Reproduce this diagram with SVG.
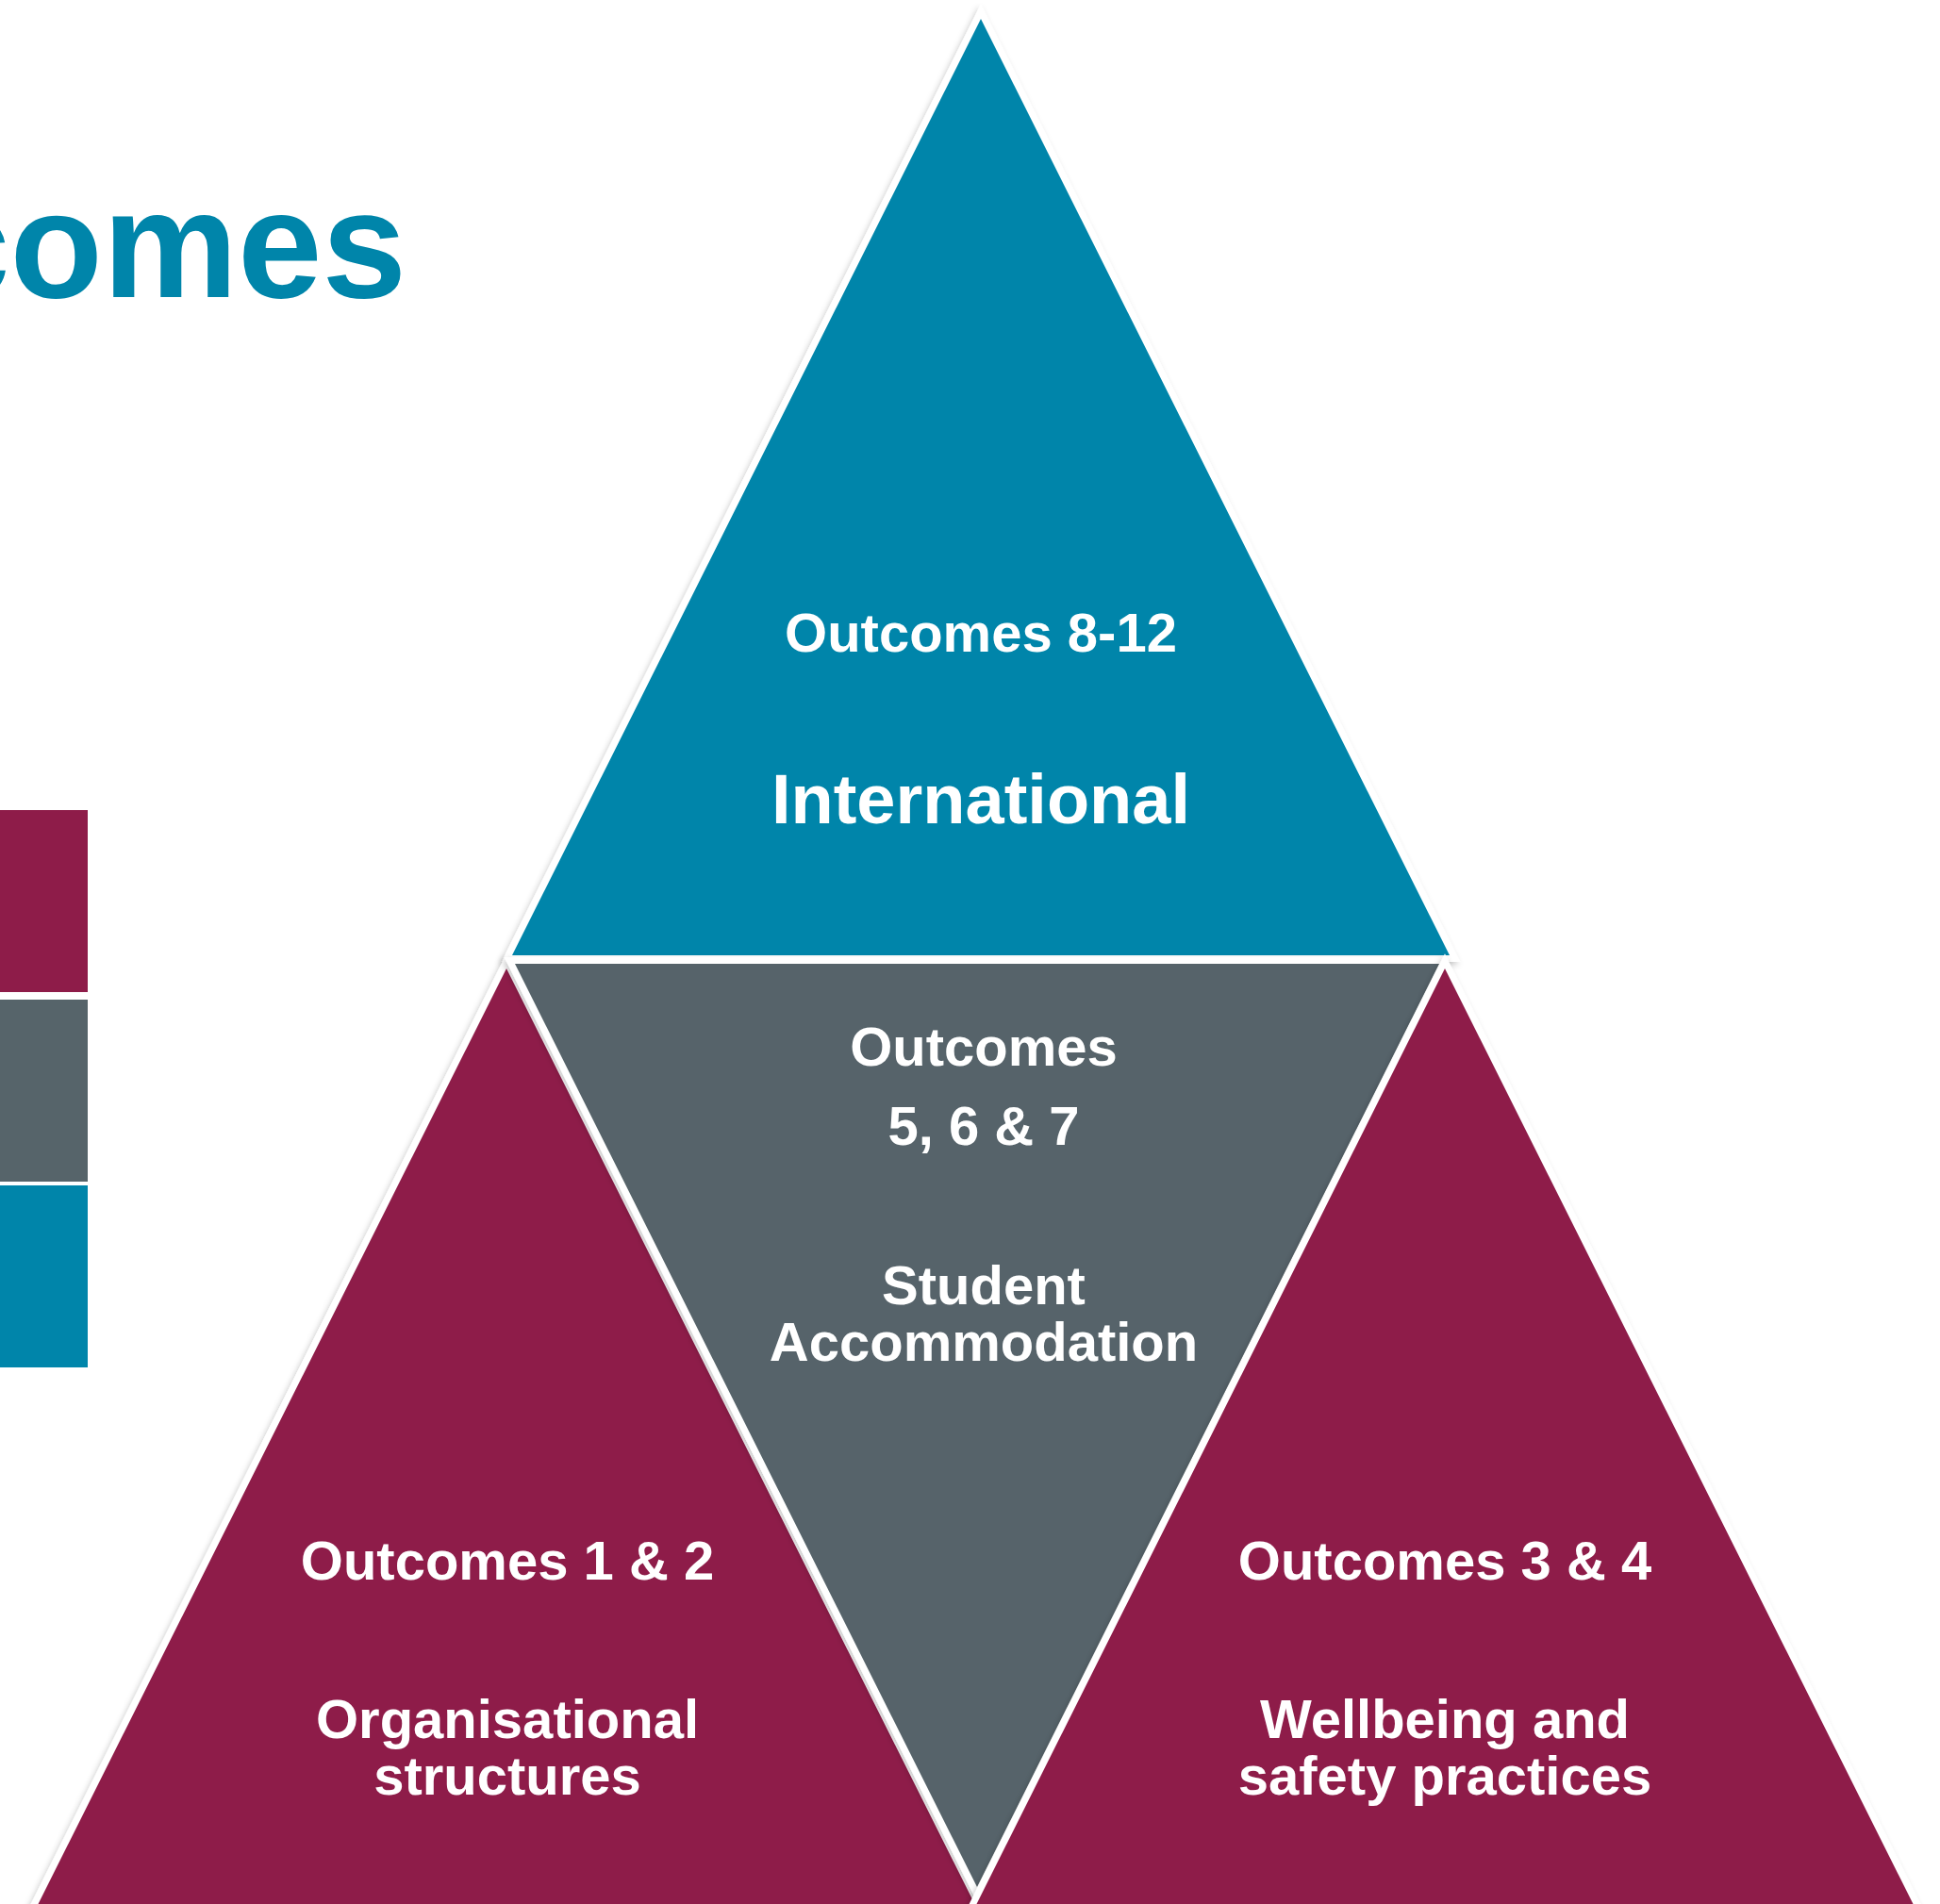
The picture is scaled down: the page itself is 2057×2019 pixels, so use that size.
<svg xmlns="http://www.w3.org/2000/svg" width="2057" height="2019" viewBox="0 0 2057 2019">
  <defs>
    <filter id="sh" x="-10%" y="-10%" width="120%" height="120%">
      <feDropShadow dx="-2" dy="3" stdDeviation="3" flood-color="#000" flood-opacity="0.22"/>
    </filter>
    <style>
      .tri { stroke: #ffffff; stroke-width: 14; stroke-linejoin: miter; paint-order: stroke; filter: url(#sh); }
      .blue { fill: #0085AA; }
      .maroon { fill: #8E1C49; }
      .gray { fill: #56646A; }
      .lbl { font-family: "Liberation Sans", Arial, sans-serif; font-weight: bold; fill: #ffffff; text-anchor: middle; }
      .s58 { font-size: 58px; }
      .s74 { font-size: 74px; }
      .title { font-family: "Liberation Sans", Arial, sans-serif; font-weight: bold; fill: #0085AA; font-size: 161px; }
    </style>
  </defs>
  <rect width="2057" height="2019" fill="#ffffff"/>

  <text class="title" x="-79" y="315">comes</text>

  <g id="legend">
    <rect x="0" y="859" width="93" height="193" class="maroon"/>
    <rect x="0" y="1060" width="93" height="193" class="gray"/>
    <rect x="0" y="1257" width="93" height="193" class="blue"/>
  </g>

  <g id="connectors"></g>

  <g id="node-international">
    <polygon class="tri blue" points="1040,20 543,1013 1537,1013"/>
    <text class="lbl s58" x="1040" y="691">Outcomes 8-12</text>
    <text class="lbl s74" x="1040" y="873">International</text>
  </g>

  <g id="node-organisational">
    <polygon class="tri maroon" points="537,1027 30,2040 1044,2040"/>
    <text class="lbl s58" x="538" y="1675">Outcomes 1 &amp; 2</text>
    <text class="lbl s58" x="538" y="1843">Organisational</text>
    <text class="lbl s58" x="538" y="1903">structures</text>
  </g>

  <g id="node-student-accommodation">
    <polygon class="tri gray" points="546,1022 1526,1022 1036,2001"/>
    <text class="lbl s58" x="1043" y="1130">Outcomes</text>
    <text class="lbl s58" x="1043" y="1214">5, 6 &amp; 7</text>
    <text class="lbl s58" x="1043" y="1383">Student</text>
    <text class="lbl s58" x="1043" y="1443">Accommodation</text>
  </g>

  <g id="node-wellbeing">
    <polygon class="tri maroon" points="1532,1027 1025,2040 2039,2040"/>
    <text class="lbl s58" x="1532" y="1675">Outcomes 3 &amp; 4</text>
    <text class="lbl s58" x="1532" y="1843">Wellbeing and</text>
    <text class="lbl s58" x="1532" y="1903">safety practices</text>
  </g>
</svg>
